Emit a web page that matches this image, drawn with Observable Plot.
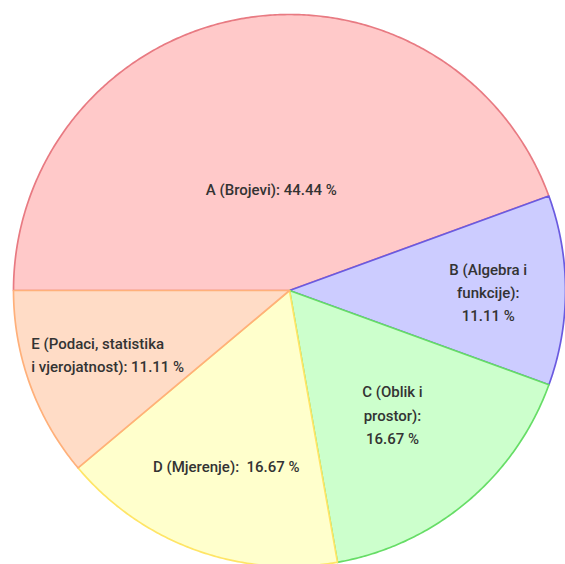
<!DOCTYPE html>
<html>
<head>
<meta charset="utf-8">
<script src="https://cdn.jsdelivr.net/npm/d3@7"></script>
<script src="https://cdn.jsdelivr.net/npm/@observablehq/plot@0.6"></script>
<style>
  html, body { margin: 0; padding: 0; background: #fff; overflow: hidden; }
</style>
</head>
<body>
<div id="chart"></div>
<script>
// ---- data ----
const categories = ["A (Brojevi)", "B (Algebra i funkcije)", "C (Oblik i prostor)", "D (Mjerenje)", "E (Podaci, statistika i vjerojatnost)"];
const values = [44.44, 11.11, 16.67, 16.67, 11.11];
const labelTexts = [
  "A (Brojevi): 44.44 %",
  "B (Algebra i\nfunkcije):\n11.11 %",
  "C (Oblik i\nprostor):\n16.67 %",
  "D (Mjerenje):  16.67 %",
  "E (Podaci, statistika\ni vjerojatnost): 11.11 %"
];

// ---- styles ----
const fills = ["#ffc9c9", "#ccccff", "#ccffcc", "#ffffcc", "#ffdcc6"];
const strokes = ["#e87a82", "#6a5ae0", "#66dd66", "#ffe566", "#ffb07a"];
const labelRadius = [0.38, 0.72, 0.58, 0.67, 0.66];
const startAngle = 1.5 * Math.PI; // pie starts at the left (west), clockwise

// ---- geometry from d3.pie ----
const pie = d3.pie().sort(null).startAngle(startAngle).endAngle(startAngle + 2 * Math.PI)(values);
const slicePoints = [];
const labels = [];
pie.forEach((p, i) => {
  const n = Math.max(2, Math.ceil((p.endAngle - p.startAngle) / (Math.PI / 360)));
  slicePoints.push({slice: i, x: 0, y: 0, fill: fills[i], stroke: strokes[i]});
  for (let k = 0; k <= n; k++) {
    const a = p.startAngle + (p.endAngle - p.startAngle) * k / n;
    slicePoints.push({slice: i, x: Math.sin(a), y: Math.cos(a), fill: fills[i], stroke: strokes[i]});
  }
  const m = (p.startAngle + p.endAngle) / 2;
  labels.push({slice: i, x: Math.sin(m) * labelRadius[i], y: Math.cos(m) * labelRadius[i], text: labelTexts[i], cat: categories[i]});
});

const cx = 289, cy = 290, r = 276;
const textStyle = {x: "x", y: "y", text: "text", fill: "#333", fontSize: 15, fontWeight: 500, lineHeight: 1.55, lineAnchor: "middle"};
const chart = Plot.plot({
  width: 565,
  height: 564,
  margin: 0,
  style: {fontFamily: "Roboto, sans-serif", background: "#fff", overflow: "hidden"},
  x: {domain: [-1, 1], range: [cx - r, cx + r], axis: null},
  y: {domain: [-1, 1], range: [cy + r, cy - r], axis: null},
  marks: [
    Plot.line(slicePoints, {x: "x", y: "y", z: "slice", fill: "fill", stroke: "stroke", strokeWidth: 1.7, curve: "linear-closed", strokeLinejoin: "round"}),
    Plot.text(labels.filter(d => d.slice !== 4), {...textStyle, textAnchor: "middle"}),
    Plot.text(labels.filter(d => d.slice === 4), {...textStyle, textAnchor: "start", dx: -87})
  ]
});
document.getElementById("chart").appendChild(chart);
</script>
</body>
</html>
